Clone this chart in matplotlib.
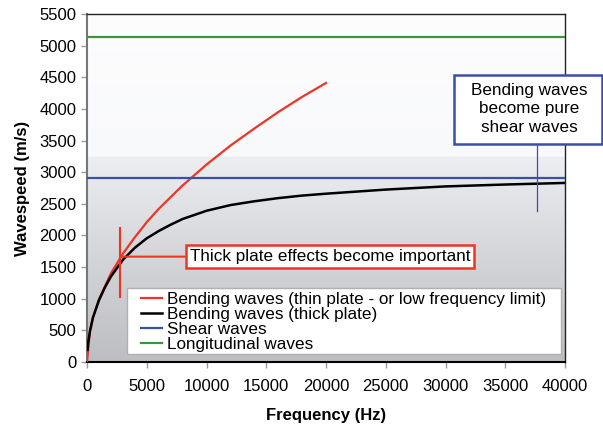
import numpy as np
import matplotlib
matplotlib.use("Agg")
import matplotlib.pyplot as plt
from matplotlib.colors import LinearSegmentedColormap
from matplotlib.patches import Rectangle

plt.rcParams['font.family'] = ['Liberation Sans', 'DejaVu Sans']

# ---- data ----
freq_thin = [0, 250, 500, 1000, 2000, 3000, 4000, 5000, 6000, 8000, 10000,
             12000, 14000, 16000, 18000, 20000]
speed_thin = [0, 490, 700, 990, 1400, 1710, 1970, 2210, 2420, 2790, 3120,
              3420, 3690, 3950, 4190, 4410]

freq_thick = [40, 100, 250, 500, 1000, 1500, 2000, 3000, 4000, 5000, 6000, 7000,
              8000, 10000, 12000, 14000, 16000, 18000, 20000, 25000, 30000,
              35000, 40000]
speed_thick = [190, 310, 490, 705, 975, 1180, 1350, 1615, 1805, 1955, 2070, 2170,
               2260, 2390, 2480, 2540, 2590, 2630, 2660, 2725, 2775, 2805, 2830]

shear_speed = 2915
long_speed = 5140
freq_range = [0, 40000]

labels = ["Bending waves (thin plate - or low frequency limit)",
          "Bending waves (thick plate)",
          "Shear waves",
          "Longitudinal waves"]

thick_marker_freq = 2800
thick_marker_speed = 1665
thick_marker_span = [1035, 2110]
thick_text = "Thick plate effects become important"

shear_marker_freq = 37650
shear_marker_span = [2380, 3500]
shear_text = "Bending waves\nbecome pure\nshear waves"

xticks = list(range(0, 40001, 5000))
yticks = list(range(0, 5501, 500))

RED = '#ee3524'
BLUE = '#3a4fa8'
GREEN = '#3a963c'

W, H = 603, 429
fig = plt.figure(figsize=(W/100, H/100), dpi=100)
ax = fig.add_axes([87/W, 1-362/H, 478/W, 348/H])

# gradient background
cmap = LinearSegmentedColormap.from_list('bg', [
    (0.0, '#bcbec1'), (0.3, '#d3d5d8'), (0.59, '#eceef1'), (0.59, '#f8f9fb'), (1.0, '#fdfdfe')])
grad = np.linspace(0, 1, 256).reshape(-1, 1)
ax.imshow(grad, extent=[0, 40000, 0, 5500], aspect='auto', origin='lower',
          cmap=cmap, zorder=0, interpolation='bilinear')

ax.plot(freq_thin, speed_thin, color=RED, lw=1.6, label=labels[0], zorder=3)
ax.plot(freq_thick, speed_thick, color='black', lw=1.8, label=labels[1], zorder=4)
ax.plot(freq_range, [shear_speed]*2, color=BLUE, lw=1.6, label=labels[2], zorder=3)
ax.plot(freq_range, [long_speed]*2, color=GREEN, lw=1.6, label=labels[3], zorder=3)

# thick plate annotation
ax.plot([thick_marker_freq]*2, thick_marker_span, color=RED, lw=1.5, zorder=5)
ax.annotate(thick_text, xy=(thick_marker_freq, thick_marker_speed),
            xytext=(8600, thick_marker_speed), fontsize=12.3, va='center', ha='left',
            arrowprops=dict(arrowstyle='-', color=RED, lw=1.5, shrinkA=0, shrinkB=0),
            bbox=dict(boxstyle='square,pad=0.22', fc='white', ec=RED, lw=1.8), zorder=6)

# shear annotation
ax.plot([shear_marker_freq]*2, shear_marker_span, color=BLUE, lw=0.9, zorder=5)
fig.patches.append(Rectangle((454/W, 1-144/H), 148/W, 69/H, transform=fig.transFigure,
                             fc='white', ec=BLUE, lw=1.8, zorder=7, figure=fig))
fig.text(529/W, 1-109/H, shear_text, fontsize=12.3, ha='center', va='center',
         linespacing=1.3, zorder=8)

ax.set_xlim(0, 40000)
ax.set_ylim(0, 5500)
ax.set_xticks(xticks)
ax.set_yticks(yticks)
ax.tick_params(labelsize=12, length=4, color='#999999', width=1)
ax.tick_params(axis='x', pad=8)
for s in ['top', 'right']:
    ax.spines[s].set_color('#222222')
    ax.spines[s].set_linewidth(1.0)
ax.spines['left'].set_color('#777777')
ax.spines['left'].set_linewidth(1.5)
ax.spines['bottom'].set_color('black')
ax.spines['bottom'].set_linewidth(1.5)

ax.set_xlabel('Frequency (Hz)', fontsize=12, fontweight='bold', labelpad=10)
ax.set_ylabel('Wavespeed (m/s)', fontsize=12, fontweight='bold', labelpad=7)

# legend frame
ax.add_patch(Rectangle((40/478, 8/348), 434/478, 66/348, transform=ax.transAxes,
                       fc='white', ec='#b0b0b0', lw=1.0, zorder=7))
leg = ax.legend(loc='center left', bbox_to_anchor=(54/478, 40/348), borderaxespad=0,
                fontsize=12.3, labelspacing=0.0, handlelength=1.2, handletextpad=0.3,
                borderpad=0.0, frameon=False)
leg.set_zorder(8)

fig.savefig('out.png', dpi=100)
